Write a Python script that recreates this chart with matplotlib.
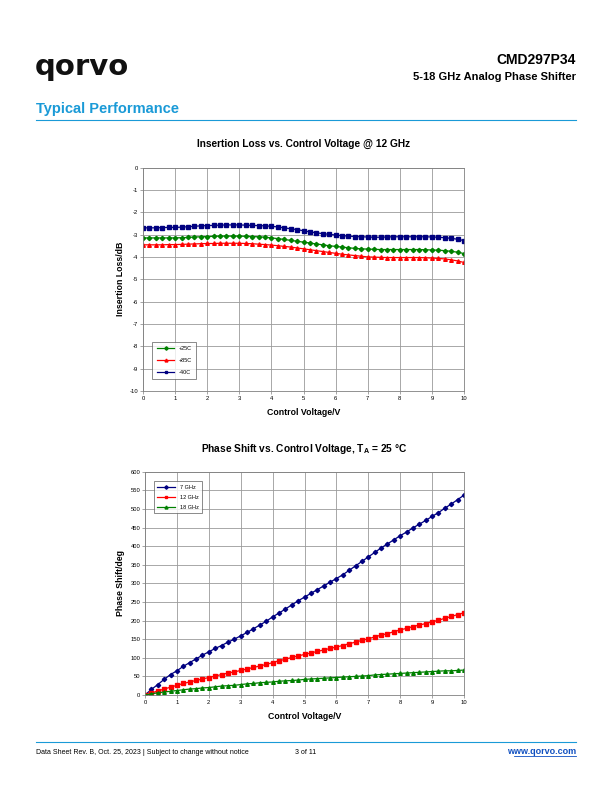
import matplotlib
matplotlib.use("Agg")
import matplotlib.pyplot as plt
import numpy as np

plt.rcParams['font.family'] = ['Liberation Sans', 'DejaVu Sans']
plt.rcParams['axes.unicode_minus'] = False

# ---------------- data ----------------
voltage = [round(0.2 * i, 1) for i in range(51)]

il_25 = [-3.15, -3.15, -3.15, -3.15, -3.15, -3.15, -3.14, -3.13, -3.11, -3.10,
         -3.09, -3.08, -3.07, -3.07, -3.07, -3.07, -3.08, -3.09, -3.10, -3.12,
         -3.15, -3.18, -3.22, -3.26, -3.30, -3.34, -3.38, -3.42, -3.46, -3.50,
         -3.53, -3.56, -3.59, -3.62, -3.64, -3.65, -3.66, -3.67, -3.67, -3.67,
         -3.67, -3.67, -3.67, -3.67, -3.68, -3.69, -3.70, -3.72, -3.75, -3.79, -3.85]
il_85 = [-3.46, -3.46, -3.46, -3.46, -3.45, -3.45, -3.44, -3.43, -3.42, -3.41,
         -3.40, -3.40, -3.39, -3.39, -3.39, -3.39, -3.40, -3.41, -3.43, -3.45,
         -3.47, -3.50, -3.53, -3.56, -3.60, -3.64, -3.68, -3.72, -3.76, -3.80,
         -3.84, -3.88, -3.91, -3.94, -3.97, -4.00, -4.01, -4.02, -4.03, -4.03,
         -4.03, -4.03, -4.03, -4.03, -4.04, -4.05, -4.07, -4.09, -4.13, -4.18, -4.25]
il_m40 = [-2.70, -2.70, -2.70, -2.69, -2.68, -2.68, -2.67, -2.65, -2.63, -2.61,
          -2.60, -2.59, -2.58, -2.57, -2.57, -2.57, -2.58, -2.59, -2.60, -2.61,
          -2.63, -2.66, -2.70, -2.74, -2.78, -2.83, -2.88, -2.92, -2.96, -2.99,
          -3.02, -3.05, -3.07, -3.09, -3.10, -3.11, -3.12, -3.12, -3.11, -3.10,
          -3.10, -3.10, -3.10, -3.10, -3.10, -3.11, -3.12, -3.14, -3.17, -3.21, -3.27]

ps_7 = [0, 15, 28, 42, 55, 65, 77, 87, 97, 107, 116, 125, 133, 142, 150, 159,
        168, 178, 188, 198, 210, 220, 231, 242, 253, 263, 273, 283, 293, 303,
        313, 323, 335, 347, 359, 371, 383, 395, 406, 417, 428, 438, 449, 459,
        469, 480, 490, 502, 513, 525, 537]
ps_12 = [0, 5, 11, 16, 21, 26, 31, 35, 39, 43, 47, 51, 55, 59, 62, 66, 70, 74,
         78, 82, 87, 92, 96, 101, 105, 109, 113, 117, 121, 125, 129, 133, 138,
         142, 147, 151, 156, 161, 165, 170, 175, 179, 184, 188, 192, 197, 201,
         206, 211, 216, 221]
ps_18 = [0, 3, 6, 8, 10, 12, 14, 16, 17, 19, 20, 22, 24, 25, 26, 28, 30, 31,
         33, 34, 35, 37, 38, 39, 40, 42, 43, 44, 45, 46, 47, 48, 49, 50, 51, 52,
         54, 55, 56, 57, 58, 59, 60, 61, 62, 63, 64, 65, 65, 66, 67]

il_labels = ['+25C', '+85C', '-40C']
ps_labels = ['7 GHz', '12 GHz', '18 GHz']

# ---------------- figure ----------------
W, H = 612, 792
fig = plt.figure(figsize=(W / 100, H / 100), dpi=100)

def fx(x):
    return x / W

def fy(y):
    return 1 - y / H

blue = '#1a9ad7'
link = '#0f4fc0'

# header
fig.text(fx(35), fy(67), 'qorvo', fontsize=21, fontweight='bold', color='#111111',
         va='center', ha='left', family='DejaVu Sans')
fig.text(fx(576), fy(60), 'CMD297P34', fontsize=10, fontweight='bold', ha='right', va='center')
fig.text(fx(576), fy(77), '5-18 GHz Analog Phase Shifter', fontsize=8, fontweight='bold',
         ha='right', va='center')
fig.text(fx(36), fy(109), 'Typical Performance', fontsize=10.5, fontweight='bold',
         color=blue, ha='left', va='center')
fig.add_artist(plt.Line2D([fx(36), fx(576)], [fy(120), fy(120)], color=blue, lw=0.8))

# footer
fig.add_artist(plt.Line2D([fx(36), fx(576)], [fy(742), fy(742)], color=blue, lw=0.8))
fig.text(fx(36), fy(752), 'Data Sheet Rev. B, Oct. 25, 2023 | Subject to change without notice',
         fontsize=5, ha='left', va='center')
fig.text(fx(295), fy(752), '3 of 11', fontsize=5, ha='left', va='center')
fig.text(fx(576), fy(752), 'www.qorvo.com', fontsize=6.5, fontweight='bold', color=link,
         ha='right', va='center')
fig.add_artist(plt.Line2D([fx(514), fx(576)], [fy(756), fy(756)], color=link, lw=0.6))

def style_axes(ax):
    ax.grid(True, color='#9a9a9a', lw=0.6)
    ax.set_axisbelow(True)
    for s in ax.spines.values():
        s.set_color('#808080')
        s.set_linewidth(0.6)
    ax.tick_params(labelsize=4.2, length=2, width=0.5, color='#808080', pad=1.5)

# ---------------- top chart ----------------
ax1 = fig.add_axes([fx(143), fy(391), fx(464) - fx(143), fy(167.5) - fy(391)])
ax1.plot(voltage, il_25, color='#008000', marker='D', ms=2.2, lw=0.9, label=il_labels[0])
ax1.plot(voltage, il_85, color='#ff0000', marker='^', ms=2.6, lw=0.9, label=il_labels[1])
ax1.plot(voltage, il_m40, color='#000080', marker='s', ms=2.6, lw=0.9, label=il_labels[2])
ax1.set_xlim(0, 10)
ax1.set_ylim(-10, 0)
ax1.set_xticks(range(0, 11))
ax1.set_yticks(range(-10, 1))
style_axes(ax1)
ax1.set_title('Insertion Loss vs. Control Voltage @ 12 GHz', fontsize=7.3, fontweight='bold', pad=15)
ax1.set_xlabel('Control Voltage/V', fontsize=6.3, fontweight='bold', labelpad=5)
ax1.set_ylabel('Insertion Loss/dB', fontsize=6.3, fontweight='bold', labelpad=3)
leg1 = ax1.legend(loc='upper left', bbox_to_anchor=(0.02, 0.232), fontsize=4, frameon=True,
                  fancybox=False, edgecolor='#555555', handlelength=3.2, borderpad=0.8,
                  labelspacing=1.2, markerscale=0.8)
leg1.get_frame().set_linewidth(0.6)

# ---------------- bottom chart ----------------
ax2 = fig.add_axes([fx(145), fy(695), fx(464) - fx(145), fy(471.7) - fy(695)])
ax2.plot(voltage, ps_7, color='#000080', marker='D', ms=2.2, lw=0.9, label=ps_labels[0])
ax2.plot(voltage, ps_12, color='#ff0000', marker='s', ms=2.6, lw=0.9, label=ps_labels[1])
ax2.plot(voltage, ps_18, color='#008000', marker='^', ms=2.6, lw=0.9, label=ps_labels[2])
ax2.set_xlim(0, 10)
ax2.set_ylim(0, 600)
ax2.set_xticks(range(0, 11))
ax2.set_yticks(range(0, 601, 50))
style_axes(ax2)
ax2.set_title('Phase Shift vs. Control Voltage, T$_\\mathregular{A}$ = 25 °C', fontsize=7.3,
              fontweight='bold', pad=14)
ax2.set_xlabel('Control Voltage/V', fontsize=6.3, fontweight='bold', labelpad=5)
ax2.set_ylabel('Phase Shift/deg', fontsize=6.3, fontweight='bold', labelpad=4)
leg2 = ax2.legend(loc='upper left', bbox_to_anchor=(0.02, 0.97), fontsize=4, frameon=True,
                  fancybox=False, edgecolor='#555555', handlelength=3.2, borderpad=0.6,
                  labelspacing=0.9, markerscale=0.8)
leg2.get_frame().set_linewidth(0.6)

fig.savefig('out.png', dpi=100)
